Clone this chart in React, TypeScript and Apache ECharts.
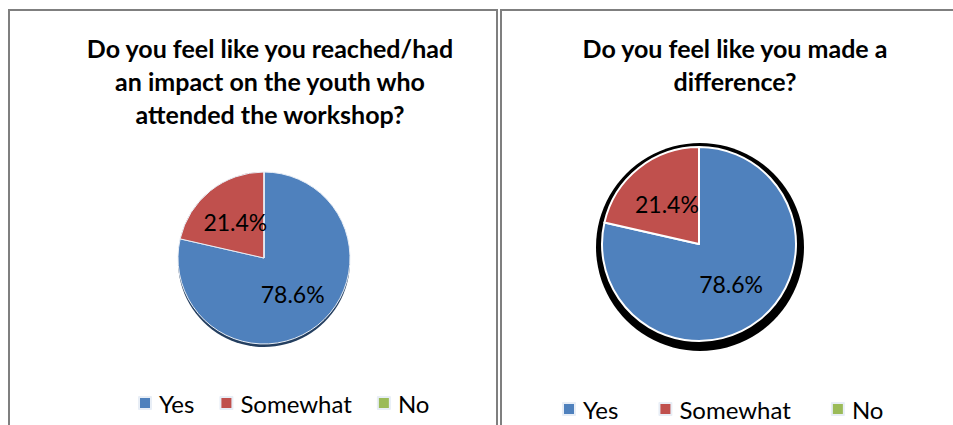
import React, { useEffect, useRef } from 'react';
import * as echarts from 'echarts';

const categories = ['Yes', 'Somewhat', 'No'];
const reachedCounts = [11, 3, 0];
const differenceCounts = [11, 3, 0];
const sliceColors = ['#4F81BD', '#C0504D', '#9BBB59'];
const leftTitle = 'Do you feel like you reached/had\nan impact on the youth who\nattended the workshop?';
const rightTitle = 'Do you feel like you made a\ndifference?';

const FONT = 'Lato, "Liberation Sans", sans-serif';

function buildData(values: number[]) {
  return categories.map((name, i) => ({ name, value: values[i], itemStyle: { color: sliceColors[i] } }));
}

const labelFormatter = (p: any) => (p.value > 0 ? p.percent.toFixed(1) + '%' : '');

export default function App() {
  const ref = useRef<HTMLDivElement>(null);
  useEffect(() => {
    if (!ref.current) return;
    const chart = echarts.init(ref.current, null, { renderer: 'svg' });
    const border = '#7f7f7f';
    chart.setOption({
      animation: false,
      color: sliceColors,
      graphic: [
        { type: 'line', shape: { x1: 9, y1: 9, x2: 9, y2: 425 }, style: { stroke: border, lineWidth: 2 }, z: 0 },
        { type: 'line', shape: { x1: 8, y1: 10, x2: 498, y2: 10 }, style: { stroke: border, lineWidth: 2 }, z: 0 },
        { type: 'line', shape: { x1: 497, y1: 9, x2: 497, y2: 425 }, style: { stroke: border, lineWidth: 2 }, z: 0 },
        { type: 'line', shape: { x1: 501, y1: 9, x2: 501, y2: 425 }, style: { stroke: border, lineWidth: 2 }, z: 0 },
        { type: 'line', shape: { x1: 500, y1: 10, x2: 953, y2: 10 }, style: { stroke: border, lineWidth: 2 }, z: 0 },
        { type: 'circle', shape: { cx: 264, cy: 261, r: 86 }, style: { fill: '#243f60' }, z: 0 },
        { type: 'circle', shape: { cx: 700, cy: 247, r: 104 }, style: { fill: '#000' }, z: 0 },
        {
          type: 'text', x: 270, y: 31, z: 5,
          style: { text: leftTitle, font: `bold 25px ${FONT}`, fill: '#000', align: 'center', verticalAlign: 'top', lineHeight: 33 },
        },
        {
          type: 'text', x: 735, y: 31, z: 5,
          style: { text: rightTitle, font: `bold 25px ${FONT}`, fill: '#000', align: 'center', verticalAlign: 'top', lineHeight: 33 },
        },
      ],
      legend: [
        {
          data: categories, left: 133, top: 386, icon: 'rect', itemWidth: 12, itemHeight: 12, itemGap: 25,
          selectedMode: false,
          textStyle: { fontFamily: FONT, fontSize: 24, color: '#000', padding: [0, 0, 0, 3] },
        },
        {
          data: categories, left: 557, top: 392, icon: 'rect', itemWidth: 12, itemHeight: 12, itemGap: 40,
          selectedMode: false,
          textStyle: { fontFamily: FONT, fontSize: 24, color: '#000', padding: [0, 0, 0, 3] },
        },
      ],
      series: [
        {
          type: 'pie', name: 'reached', center: [264, 258], radius: 86, startAngle: 90, clockwise: true,
          percentPrecision: 1, silent: true, z: 2,
          data: buildData(reachedCounts),
          label: { show: true, position: 'inside', formatter: labelFormatter, fontFamily: FONT, fontSize: 23, color: '#000' },
          labelLine: { show: false },
          itemStyle: { borderColor: '#e8eef6', borderWidth: 1 },
          emphasis: { disabled: true },
        },
        {
          type: 'pie', name: 'difference', center: [699, 244], radius: 97, startAngle: 90, clockwise: true,
          percentPrecision: 1, silent: true, z: 2,
          data: buildData(differenceCounts),
          label: { show: true, position: 'inside', formatter: labelFormatter, fontFamily: FONT, fontSize: 23, color: '#000' },
          labelLine: { show: false },
          itemStyle: { borderColor: '#fff', borderWidth: 2 },
          emphasis: { disabled: true },
        },
      ],
    });
    return () => chart.dispose();
  }, []);
  return <div ref={ref} style={{ position: 'absolute', left: 0, top: 0, width: 953, height: 425, background: '#fff' }} />;
}
